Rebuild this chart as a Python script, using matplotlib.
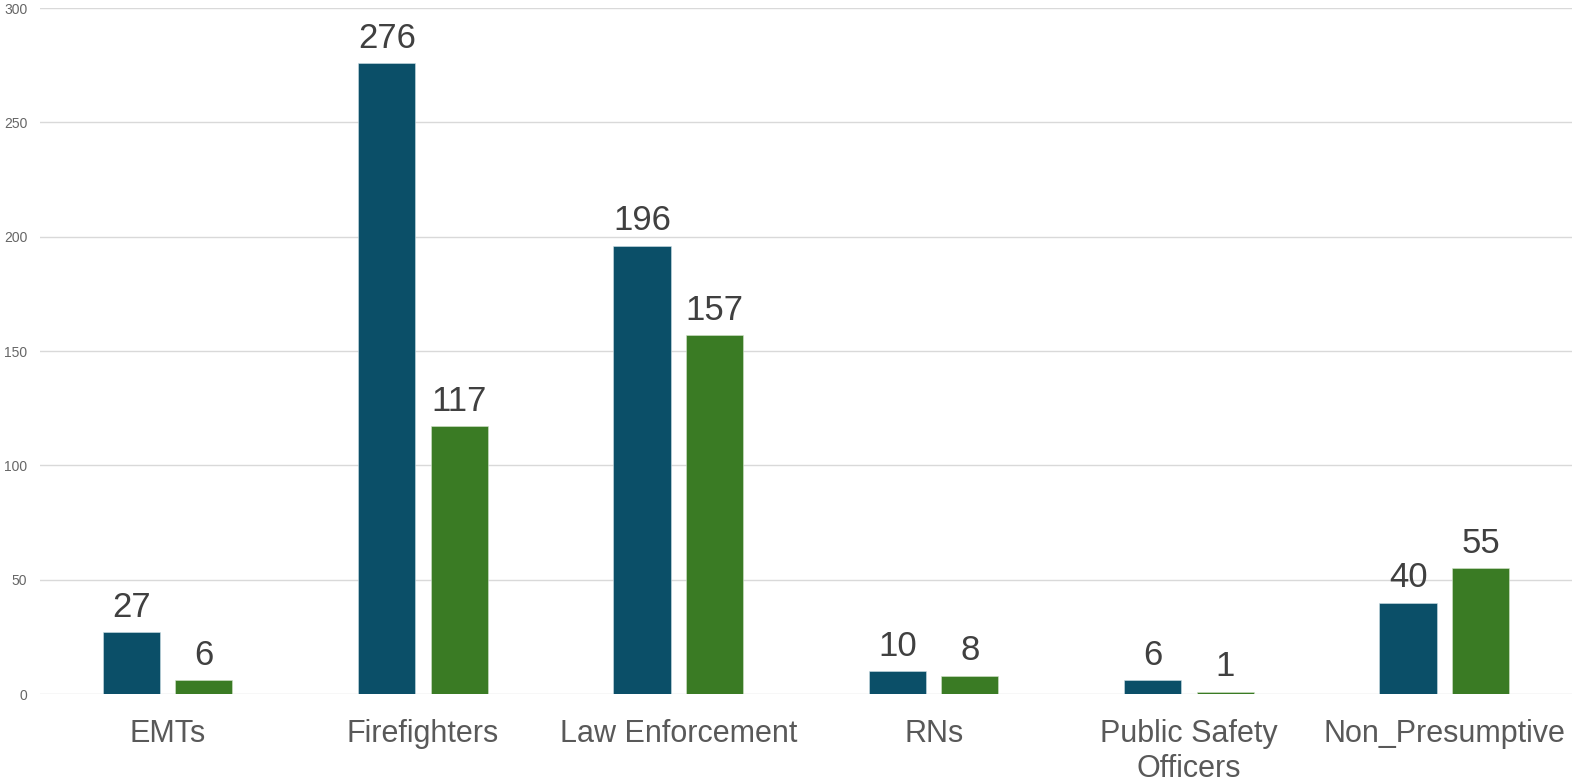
import matplotlib.pyplot as plt
import numpy as np

# counts per occupation group, two series
categories = ['EMTs', 'Firefighters', 'Law Enforcement', 'RNs',
              'Public Safety\nOfficers', 'Non_Presumptive']
series_a = [27, 276, 196, 10, 6, 40]
series_b = [6, 117, 157, 8, 1, 55]

plt.rcParams['font.family'] = ['Liberation Sans', 'DejaVu Sans']

fig = plt.figure(figsize=(15.72, 7.77), dpi=100)
ax = fig.add_axes([0.0254, 0.1068, 0.9746, 0.8829])

x = np.arange(len(categories))
w = 0.224
off = 0.142
bars_a = ax.bar(x - off, series_a, w, color='#0b4f68', edgecolor='#cfe0e6', linewidth=0.4, zorder=3)
bars_b = ax.bar(x + off, series_b, w, color='#3a7b24', edgecolor='#d4e4cc', linewidth=0.4, zorder=3)

# value labels on top of each bar
for bars, vals in [(bars_a, series_a), (bars_b, series_b)]:
    for b, v in zip(bars, vals):
        ax.annotate(str(v), (b.get_x() + b.get_width() / 2, v),
                    xytext=(0, 6), textcoords='offset points',
                    ha='center', va='bottom', fontsize=25, color='#404040')

ax.set_xlim(-0.5, len(categories) - 0.5)
ax.set_ylim(0, 300)
ax.set_yticks(range(0, 301, 50))
ax.set_xticks(x)
ax.set_xticklabels(categories, fontsize=22, color='#595959', linespacing=1.2)
ax.tick_params(axis='x', length=0, pad=18)
ax.tick_params(axis='y', length=0, pad=9, labelsize=10, labelcolor='#666666')
ax.grid(axis='y', color='#d9d9d9', linewidth=1, zorder=0)
for s in ax.spines.values():
    s.set_visible(False)

fig.savefig('out.png', dpi=100)
